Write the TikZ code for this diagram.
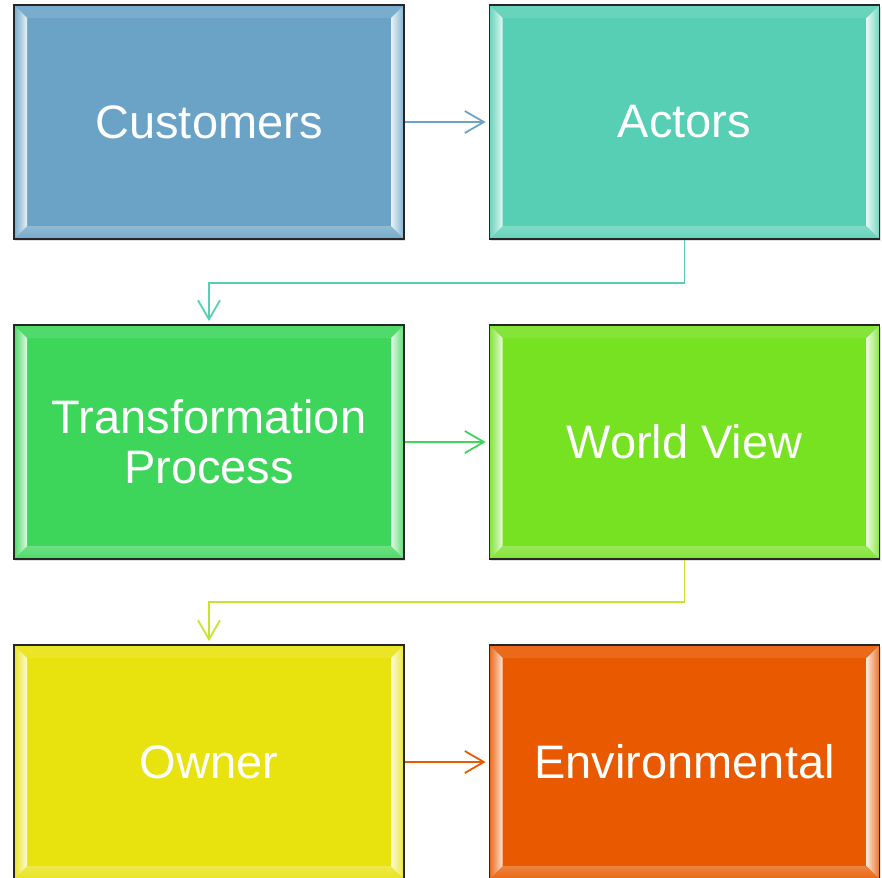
\documentclass[tikz,border=0pt]{standalone}
\usepackage{fontspec}
\setmainfont{Liberation Sans}
\usetikzlibrary{arrows.meta,shadows}
\definecolor{cCust}{RGB}{107,163,199}
\definecolor{cAct}{RGB}{86,207,180}
\definecolor{cTP}{RGB}{61,214,90}
\definecolor{cWV}{RGB}{118,226,34}
\definecolor{cOwn}{RGB}{232,226,14}
\definecolor{cEnv}{RGB}{232,89,0}
\definecolor{cWVline}{RGB}{200,228,50}
\newcommand{\bvw}{13pt}
\tikzset{
  bbox/.style={draw=black!85, line width=1.8pt, fill=#1,
    minimum width=390pt, minimum height=234pt, inner sep=0pt,
    text=white, align=center,
    font=\fontsize{47}{50}\selectfont,
    drop shadow={shadow xshift=1pt, shadow yshift=-2pt, opacity=0.25},
    path picture={
      % top bevel
      \fill[#1!90!white] (path picture bounding box.north west) -- (path picture bounding box.north east)
        -- ([xshift=-\bvw,yshift=-\bvw]path picture bounding box.north east)
        -- ([xshift=\bvw,yshift=-\bvw]path picture bounding box.north west) -- cycle;
      % bottom bevel
      \shade[top color=#1!75!white, bottom color=#1!92!white] (path picture bounding box.south west) -- (path picture bounding box.south east)
        -- ([xshift=-\bvw,yshift=\bvw]path picture bounding box.south east)
        -- ([xshift=\bvw,yshift=\bvw]path picture bounding box.south west) -- cycle;
      % left bevel
      \shade[left color=#1!90!white, right color=#1!15!white, middle color=#1!55!white] (path picture bounding box.north west) -- (path picture bounding box.south west)
        -- ([xshift=\bvw,yshift=\bvw]path picture bounding box.south west)
        -- ([xshift=\bvw,yshift=-\bvw]path picture bounding box.north west) -- cycle;
      % right bevel
      \shade[left color=#1!15!white, right color=#1!85!white, middle color=#1!50!white] (path picture bounding box.north east) -- (path picture bounding box.south east)
        -- ([xshift=-\bvw,yshift=\bvw]path picture bounding box.south east)
        -- ([xshift=-\bvw,yshift=-\bvw]path picture bounding box.north east) -- cycle;
    }},
  conn/.style={draw=#1, line width=1.8pt, -{Straight Barb[length=19pt,width=22pt]}, shorten >=3pt}
}
\begin{document}
\begin{tikzpicture}[x=1pt,y=-1pt]
\useasboundingbox (0,0) rectangle (882,877);
\node[bbox=cCust] (cust) at (209,122) {Customers};
\node[bbox=cAct]  (act)  at (684.5,122) {Actors};
\node[bbox=cTP]   (tp)   at (209,442) {Transformation\\Process};
\node[bbox=cWV]   (wv)   at (684.5,442) {World View};
\node[bbox=cOwn]  (own)  at (209,762) {Owner};
\node[bbox=cEnv]  (env)  at (684.5,762) {Environmental};
\draw[conn=cCust] (cust) -- (act);
\draw[conn=cAct] (act.south) -- ([yshift=-43pt]act.south) -| (tp.north);
\draw[conn=cTP] (tp) -- (wv);
\draw[conn=cWVline] (wv.south) -- ([yshift=-42pt]wv.south) -| (own.north);
\draw[conn=cEnv] (own) -- (env);
\end{tikzpicture}
\end{document}
